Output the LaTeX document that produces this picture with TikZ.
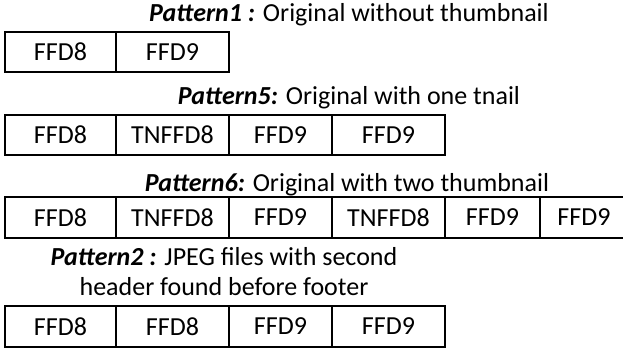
\documentclass[tikz,border=0pt]{standalone}
\usepackage{fontspec}
\setmainfont{Carlito}
\begin{document}
\begin{tikzpicture}[x=1pt,y=-1pt,
  cell/.style={draw=black, line width=2.3pt, inner sep=0pt, minimum height=40pt, font=\fontsize{26}{31}\selectfont},
  lbl/.style={inner sep=0pt, align=center, font=\fontsize{26}{30}\selectfont}]
\useasboundingbox (0,0) rectangle (623,348);
% labels
\node[lbl] (l1) at (349,15) {\textbf{\textit{Pattern1 :}} Original without thumbnail};
\node[lbl] (l5) at (349,98) {\textbf{\textit{Pattern5:}} Original with one tnail};
\node[lbl] (l6) at (347,185) {\textbf{\textit{Pattern6:}} Original with two thumbnail};
\node[lbl] (l2) at (224,272) {\textbf{\textit{Pattern2 :}} JPEG files with second\\header found before footer};
% row 1
\node[cell, minimum width=111pt] (a1) at (60.5,52) {FFD8};
\node[cell, minimum width=113pt] (a2) at (172.5,52) {FFD9};
% row 2
\node[cell, minimum width=111pt] (b1) at (60.5,135) {FFD8};
\node[cell, minimum width=113pt] (b2) at (172.5,135) {TNFFD8};
\node[cell, minimum width=103pt] (b3) at (280.5,135) {FFD9};
\node[cell, minimum width=113pt] (b4) at (388.5,135) {FFD9};
% row 3
\node[cell, minimum width=111pt, minimum height=41pt] (c1) at (60.5,217.5) {FFD8};
\node[cell, minimum width=113pt, minimum height=41pt] (c2) at (172.5,217.5) {TNFFD8};
\node[cell, minimum width=103pt, minimum height=41pt] (c3) at (280.5,217.5) {FFD9};
\node[cell, minimum width=113pt, minimum height=41pt] (c4) at (388.5,217.5) {TNFFD8};
\node[cell, minimum width=95pt, minimum height=41pt] (c5) at (492.5,217.5) {FFD9};
\node[cell, minimum width=88pt, minimum height=41pt] (c6) at (584,217.5) {FFD9};
% row 4
\node[cell, minimum width=111pt, minimum height=41pt] (d1) at (60.5,326.5) {FFD8};
\node[cell, minimum width=113pt, minimum height=41pt] (d2) at (172.5,326.5) {FFD8};
\node[cell, minimum width=103pt, minimum height=41pt] (d3) at (280.5,326.5) {FFD9};
\node[cell, minimum width=113pt, minimum height=41pt] (d4) at (388.5,326.5) {FFD9};
\end{tikzpicture}
\end{document}
